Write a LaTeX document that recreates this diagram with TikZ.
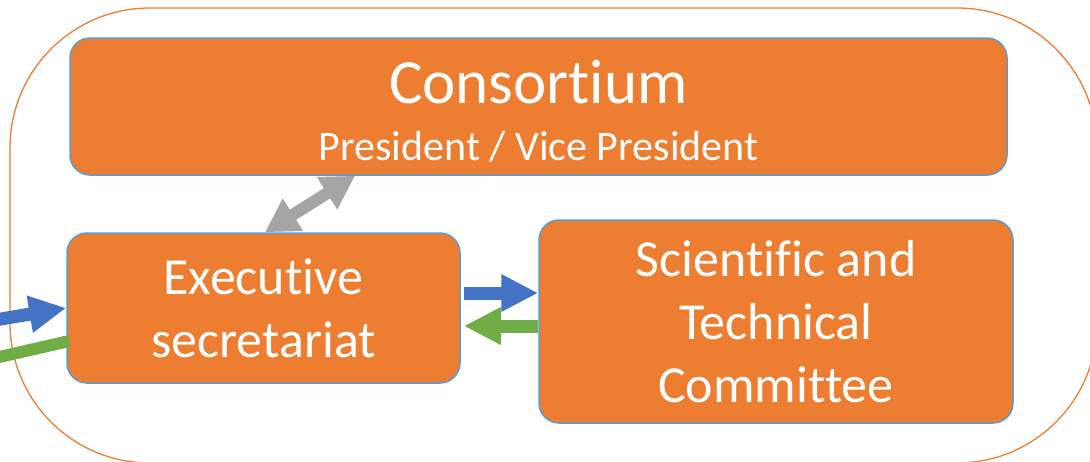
\documentclass[tikz,border=0pt]{standalone}
\usepackage{fontspec}
\setmainfont[RawFeature={-liga;-clig}]{Carlito}
\usetikzlibrary{arrows.meta}
\definecolor{borange}{HTML}{ED7D31}
\definecolor{bblue}{HTML}{4472C4}
\definecolor{bgreen}{HTML}{70AD47}
\definecolor{bgray}{HTML}{A5A5A5}
\definecolor{bedge}{HTML}{5B9BD5}
\tikzset{
  box/.style={draw=bedge, line width=1.5pt, fill=borange, rounded corners=20pt, inner sep=0pt},
  boxtext/.style={text=white, align=center, inner sep=0pt},
  bluearrow/.style={draw=bblue, line width=13pt, -{Triangle[length=37pt,width=35pt]}},
  greenarrow/.style={draw=bgreen, line width=13pt, -{Triangle[length=37pt,width=35pt]}},
  greenbar/.style={draw=bgreen, line width=12pt},
  grayarrow/.style={draw=bgray, line width=12pt, {Triangle[length=33pt,width=36pt]}-{Triangle[length=33pt,width=36pt]}},
}
\begin{document}
\begin{tikzpicture}[x=1pt,y=-1pt]
\useasboundingbox (0,0) rectangle (1090,461);
\begin{scope}
\clip (0,0) rectangle (1090,461);
\draw[borange, line width=1.3pt, rounded corners=140pt] (10,8) rectangle (1097,463);
\end{scope}
\node[box, minimum width=937pt, minimum height=137pt] (cons) at (538.5,106.5) {};
\node[boxtext, anchor=base, font=\fontsize{63}{70}\selectfont] (constitle) at (538.5,103) {Consortium};
\node[boxtext, anchor=base, font=\fontsize{42}{48}\selectfont] (conssub) at (538.5,160) {President / Vice President};
\node[box, minimum width=393pt, minimum height=150pt, boxtext, font=\fontsize{52}{63}\selectfont] (exec) at (263.5,308) {Executive\\secretariat};
\node[box, minimum width=474pt, minimum height=203pt, boxtext, font=\fontsize{52}{63}\selectfont] (sci) at (776,321.5) {Scientific and\\Technical\\Committee};
\coordinate (lb) at (-5,320);
\coordinate (lg) at (-5,358);
\draw[bluearrow] (lb) -- (exec.west);
\draw[greenbar] (lg) -- ([xshift=3pt,yshift=-33pt]exec.west);
\draw[bluearrow] ([xshift=3pt,yshift=15pt]exec.east) -- ([yshift=28.5pt]sci.west);
\draw[greenarrow] ([yshift=-4.5pt]sci.west) -- ([xshift=3pt,yshift=-18pt]exec.east);
\draw[grayarrow] ([xshift=1.5pt]exec.north) -- ([xshift=-183.5pt]cons.south);
\end{tikzpicture}
\end{document}
